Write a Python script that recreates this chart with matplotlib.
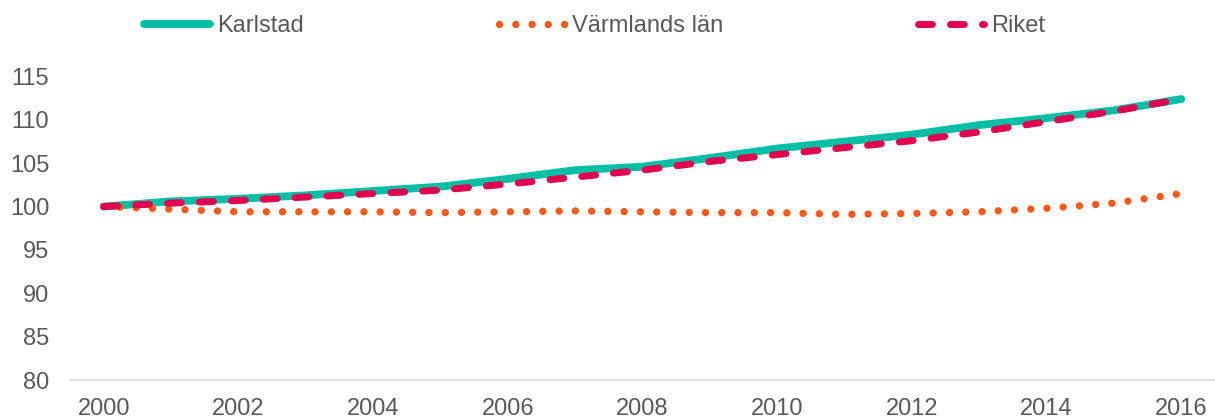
import matplotlib
matplotlib.use("Agg")
import matplotlib.pyplot as plt

# Index 2000 = 100
years = list(range(2000, 2017))
karlstad = [100.0, 100.6, 100.9, 101.3, 101.8, 102.3, 103.2, 104.2, 104.6,
            105.6, 106.7, 107.5, 108.3, 109.4, 110.2, 111.1, 112.4]
varmland = [100.0, 99.7, 99.4, 99.4, 99.4, 99.3, 99.4, 99.5, 99.4,
            99.3, 99.3, 99.1, 99.2, 99.4, 99.8, 100.4, 101.5]
riket = [100.0, 100.4, 100.7, 101.1, 101.5, 101.9, 102.6, 103.4, 104.2,
         105.2, 106.0, 106.8, 107.6, 108.6, 109.8, 111.0, 112.4]
yticks = [80, 85, 90, 95, 100, 105, 110, 115]
xticks = list(range(2000, 2017, 2))

plt.rcParams['font.family'] = ['Liberation Sans', 'DejaVu Sans']
text_color = '#595959'
fs = 17

fig = plt.figure(figsize=(12.15, 4.19), dpi=100)
ax = fig.add_axes([0.0576, 0.093, 0.9424, 0.7244])

ax.plot(years, karlstad, color='#00BFA5', lw=5.6, solid_capstyle='round',
        label='Karlstad', zorder=2)
ax.plot(years, varmland, color='#FF5A1A', lw=5.3, linestyle=(0, (0.01, 2.2)),
        dash_capstyle='round', label='Värmlands län', zorder=3)
ax.plot(years, riket, color='#E2004F', lw=5, linestyle=(0, (2.0, 2.6)),
        dash_capstyle='round', label='Riket', zorder=4)

ax.set_xlim(1999.5, 2016.5)
ax.set_ylim(80, 115)
ax.set_xticks(xticks)
ax.set_yticks(yticks)
ax.tick_params(length=0, labelsize=fs, colors=text_color)
ax.tick_params(axis='x', pad=13)
ax.tick_params(axis='y', pad=15)

for side in ['top', 'right', 'left']:
    ax.spines[side].set_visible(False)
ax.spines['bottom'].set_color('#D9D9D9')
ax.spines['bottom'].set_linewidth(1.2)

leg = fig.legend(loc='center left', bbox_to_anchor=(0.1185, 0.938), ncol=3,
                 frameon=False, fontsize=fs, handlelength=2.8,
                 handletextpad=0.3, columnspacing=8.25,
                 borderpad=0, borderaxespad=0)
for t in leg.get_texts():
    t.set_color(text_color)

fig.savefig('out.png', dpi=100)
